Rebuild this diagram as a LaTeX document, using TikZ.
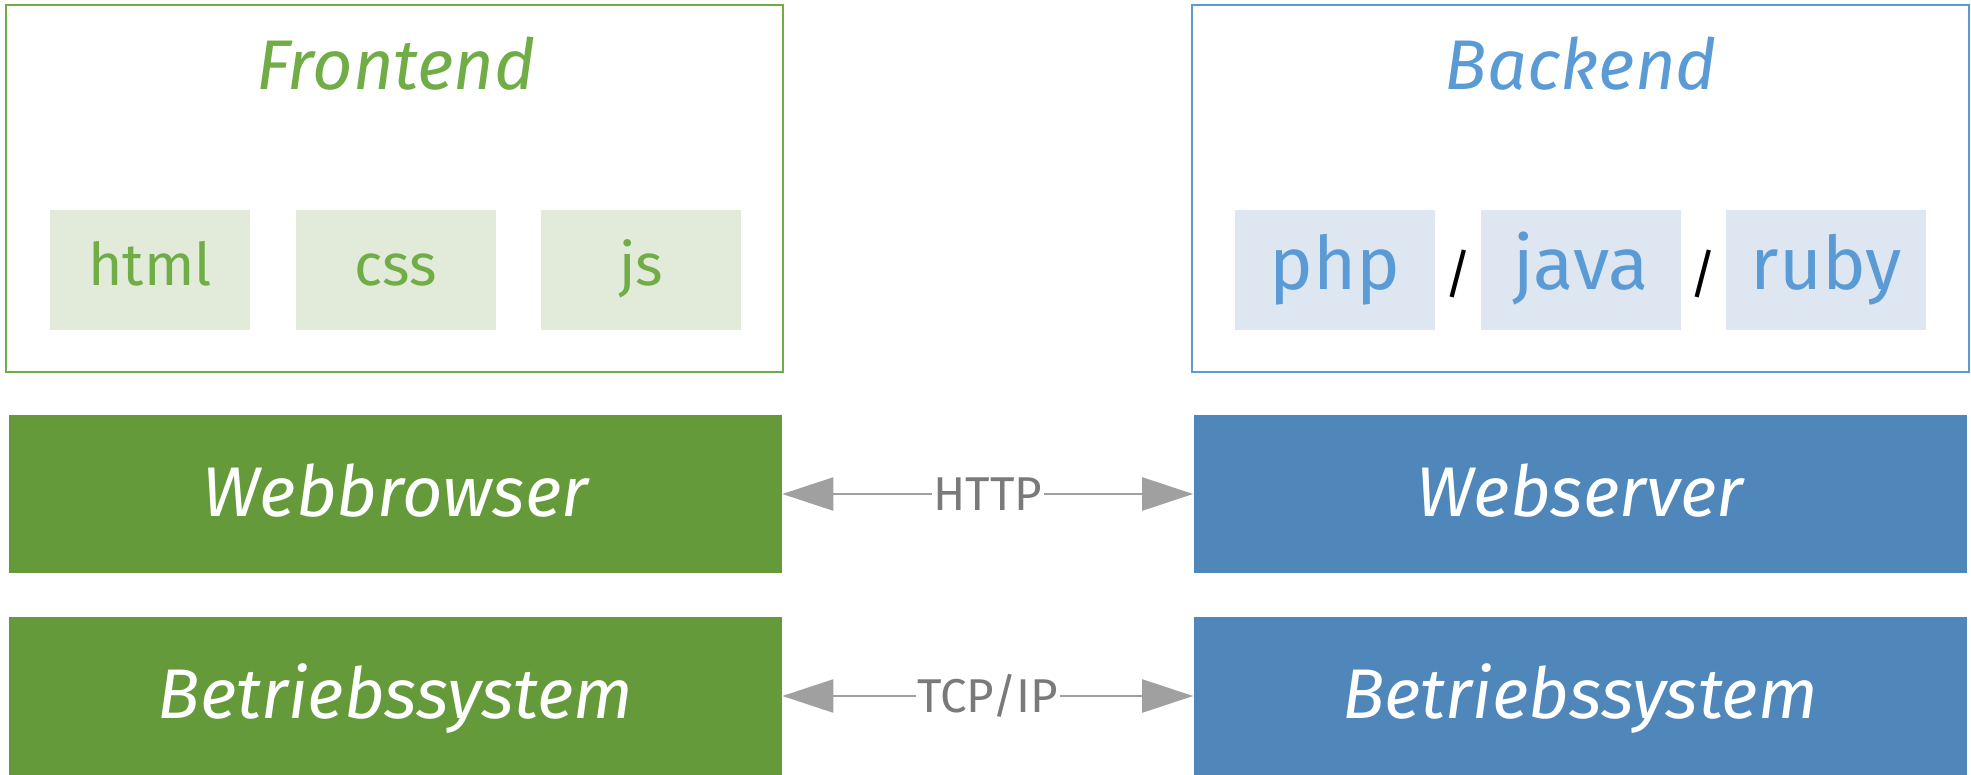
\documentclass[tikz,border=0pt]{standalone}
\usepackage{fontspec}
\setmainfont{Fira Sans}
\usetikzlibrary{positioning,arrows.meta}
\definecolor{feline}{HTML}{70AD47}
\definecolor{felight}{HTML}{E2EBDA}
\definecolor{fedark}{HTML}{659A3B}
\definecolor{beline}{HTML}{5B9BD5}
\definecolor{belight}{HTML}{DEE6F2}
\definecolor{bedark}{HTML}{4F87BB}
\definecolor{proto}{HTML}{A0A0A0}
\definecolor{prototext}{HTML}{7A7A7A}
\tikzset{
  sidebox/.style={draw=#1, line width=0.05cm, minimum width=15.54cm, minimum height=7.34cm},
  sidetitle/.style={text=#1, anchor=base, font=\fontsize{40}{48}\selectfont\itshape},
  lang/.style={fill=#1, minimum width=4cm, minimum height=2.4cm, inner sep=0pt, text depth=0pt},
  stackbox/.style={fill=#1, text=white, minimum width=15.46cm, minimum height=3.16cm, inner sep=0pt,
    font=\fontsize{40}{48}\selectfont\itshape, text height=26pt, text depth=0pt},
  slash/.style={yshift=-0.08cm, font=\fontsize{30}{36}\selectfont},
  conn/.style={draw=proto, line width=0.05cm,
    {Triangle[length=1.02cm,width=0.66cm]}-{Triangle[length=1.02cm,width=0.66cm]}},
  protolabel/.style={fill=white, text=prototext, inner sep=1pt, font=\fontsize{27}{32}\selectfont}
}
\begin{document}
\begin{tikzpicture}
  \useasboundingbox (0,0) rectangle (39.42,-15.5);

  % frontend side
  \node[sidebox=feline] (fe) at (7.89,-3.77) {};
  \node[sidetitle=feline] (fetitle) at (7.92,-1.78) {Frontend};
  \node[lang=felight, text=feline, text height=17.7pt, font=\fontsize{33.5}{40}\selectfont] (html) at (3.0,-5.4) {html};
  \node[lang=felight, text=feline, text height=17.7pt, font=\fontsize{33.5}{40}\selectfont, right=0.9cm of html] (css) {css};
  \node[lang=felight, text=feline, text height=17.7pt, font=\fontsize{33.5}{40}\selectfont, right=0.9cm of css] (js) {js};

  % backend side
  \node[sidebox=beline] (be) at (31.61,-3.77) {};
  \node[sidetitle=beline] (betitle) at (31.62,-1.78) {Backend};
  \node[lang=belight, text=beline, text height=22.1pt, font=\fontsize{42}{48}\selectfont] (php) at (26.7,-5.4) {php};
  \node[lang=belight, text=beline, text height=22.1pt, font=\fontsize{42}{48}\selectfont, right=0.9cm of php] (java) {java};
  \node[lang=belight, text=beline, text height=22.1pt, font=\fontsize{42}{48}\selectfont, right=0.9cm of java] (ruby) {ruby};
  \path (php) -- node[slash] (slasha) {/} (java);
  \path (java) -- node[slash] (slashb) {/} (ruby);

  % layers
  \node[stackbox=fedark] (wb) at (7.91,-9.88) {Webbrowser};
  \node[stackbox=bedark] (ws) at (31.6,-9.88) {Webserver};
  \node[stackbox=fedark] (osl) at (7.91,-13.92) {Betriebssystem};
  \node[stackbox=bedark] (osr) at (31.6,-13.92) {Betriebssystem};

  \draw[conn] (wb) -- node[protolabel] (http) {HTTP} (ws);
  \draw[conn] (osl) -- node[protolabel] (tcp) {TCP/IP} (osr);
\end{tikzpicture}
\end{document}
